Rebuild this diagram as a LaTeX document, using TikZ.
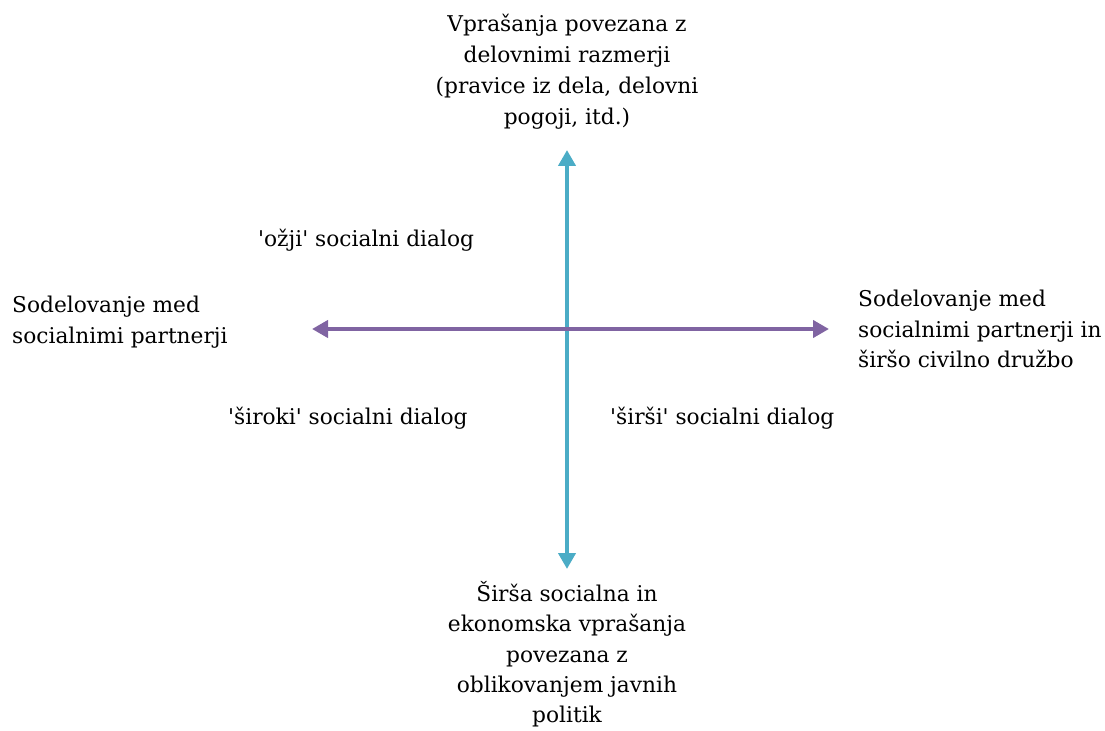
\documentclass[tikz,border=0pt]{standalone}
\usepackage{fontspec}
\setmainfont{DejaVu Serif}
\usepackage{tikz}
\usetikzlibrary{arrows.meta,positioning}
\definecolor{AquaAxis}{HTML}{4BACC6}
\definecolor{PurpleAxis}{HTML}{8064A2}

\begin{document}
\begin{tikzpicture}[x=1bp,y=-1bp,
    lbl/.style={inner sep=0pt,font=\fontsize{21.8}{31}\selectfont,text=black},
    axis/.style={line width=4.5bp,{Triangle[length=16bp,width=17bp]}-{Triangle[length=16bp,width=17bp]}}]
    \useasboundingbox (0,0) rectangle (1105,731);
    %%Axes
    \coordinate (vtop) at (567,150);
    \coordinate (vbot) at (567,569);
    \coordinate (hleft) at (312,329);
    \coordinate (hright) at (829,329);
    \draw[axis,AquaAxis] (vtop) -- (vbot);
    \draw[axis,PurpleAxis] (hleft) -- (hright);
    %%Labels
    \node[lbl,align=center,anchor=north] (top) at (567,14) {Vprašanja povezana z\\delovnimi razmerji\\(pravice iz dela, delovni\\pogoji, itd.)};
    \node[lbl,align=center,anchor=north,font=\fontsize{21.8}{30.5}\selectfont] (bottom) at (567,581) {Širša socialna in\\ekonomska vprašanja\\povezana z\\oblikovanjem javnih\\politik};
    \node[lbl,align=left,anchor=west] (left) at (12,322) {Sodelovanje med\\socialnimi partnerji};
    \node[lbl,align=left,anchor=west] (right) at (858,329) {Sodelovanje med\\socialnimi partnerji in\\širšo civilno družbo};
    \node[lbl,anchor=west] (ozji) at (258,240) {\textquotesingle ožji\textquotesingle{} socialni dialog};
    \node[lbl,anchor=west] (siroki) at (228,418) {\textquotesingle široki\textquotesingle{} socialni dialog};
    \node[lbl,anchor=west] (sirsi) at (610,418) {\textquotesingle širši\textquotesingle{} socialni dialog};
\end{tikzpicture}
\end{document}
